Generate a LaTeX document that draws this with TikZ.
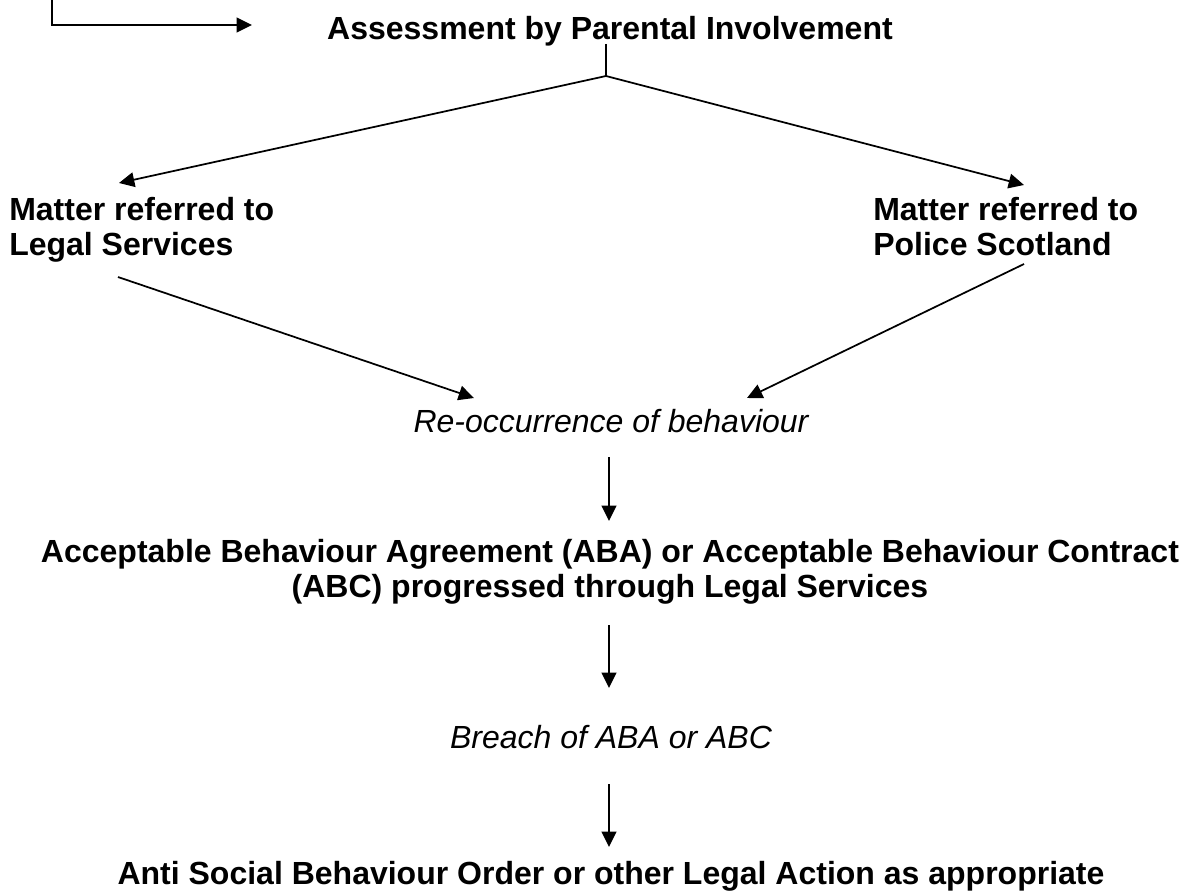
\documentclass[tikz,border=0pt]{standalone}
\usepackage{fontspec}
\setmainfont{Liberation Sans}
\usetikzlibrary{arrows.meta}
\begin{document}
\begin{tikzpicture}[x=0.75pt,y=-0.75pt,
  boldtxt/.style={inner sep=0pt,font=\fontsize{24}{27}\selectfont\bfseries},
  italtxt/.style={inner sep=0pt,font=\fontsize{24}{27}\selectfont\itshape},
  conn/.style={line width=1.3pt,-{Triangle[length=11.5pt,width=11pt]}},
  plainline/.style={line width=1.3pt}]
\useasboundingbox (0,0) rectangle (1184,892);

% texts
\node[boldtxt,anchor=base] (assess) at (610,40) {Assessment by Parental Involvement};
\node[boldtxt,anchor=base west] (legal1) at (9,220) {Matter referred to};
\node[boldtxt,anchor=base west] (legal2) at (9,255) {Legal Services};
\node[boldtxt,anchor=base west] (police1) at (873,220) {Matter referred to};
\node[boldtxt,anchor=base west] (police2) at (873,255) {Police Scotland};
\node[italtxt,anchor=base] (reocc) at (611,432) {Re-occurrence of behaviour};
\node[boldtxt,anchor=base] (aba1) at (610,562) {Acceptable Behaviour Agreement (ABA) or Acceptable Behaviour Contract};
\node[boldtxt,anchor=base] (aba2) at (610,597) {(ABC) progressed through Legal Services};
\node[italtxt,anchor=base] (breach) at (611,748) {Breach of ABA or ABC};
\node[boldtxt,anchor=base] (asbo) at (611,884) {Anti Social Behaviour Order or other Legal Action as appropriate};

% connector end points
\coordinate (inTop) at (52,0);
\coordinate (inCorner) at (52,25);
\coordinate (inEnd) at (252,25);
\coordinate (assessOut) at (606,44);
\coordinate (split) at (606,76);
\coordinate (legalIn) at (119,183);
\coordinate (policeIn) at (1024,185);
\coordinate (legalOut) at (118,277);
\coordinate (policeOut) at (1024,264);
\coordinate (reoccInL) at (474,398);
\coordinate (reoccInR) at (747,398);
\coordinate (reoccOut) at (609,457);
\coordinate (abaIn) at (609,521);
\coordinate (abaOut) at (609,625);
\coordinate (breachIn) at (609,688);
\coordinate (breachOut) at (609,784);
\coordinate (asboIn) at (609,847);

% connectors
\draw[conn] (inTop) -- (inCorner) -- (inEnd);
\draw[plainline] (assessOut) -- (split);
\draw[conn] (split) -- (legalIn);
\draw[conn] (split) -- (policeIn);
\draw[conn] (legalOut) -- (reoccInL);
\draw[conn] (policeOut) -- (reoccInR);
\draw[conn] (reoccOut) -- (abaIn);
\draw[conn] (abaOut) -- (breachIn);
\draw[conn] (breachOut) -- (asboIn);
\end{tikzpicture}
\end{document}
